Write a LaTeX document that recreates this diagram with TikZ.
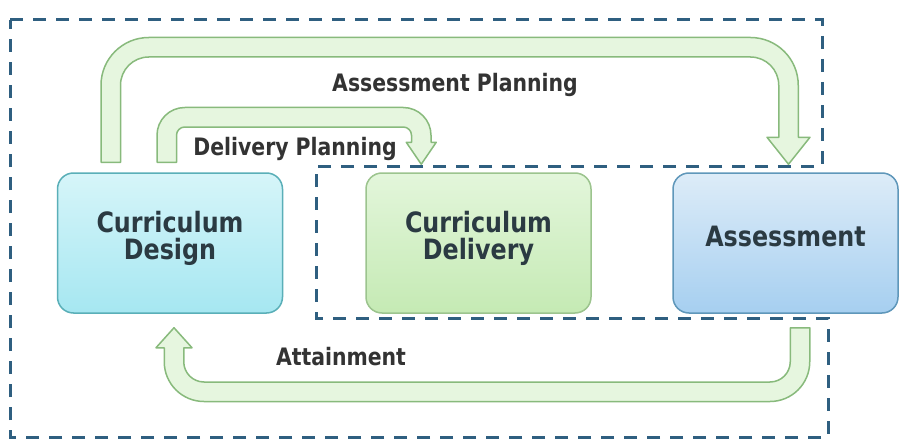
\documentclass[tikz,border=0pt]{standalone}
\usepackage{fontspec}
\newfontfamily\labfont[FakeStretch=0.85]{DejaVu Sans}
\usetikzlibrary{calc}
\definecolor{dashc}{HTML}{2F5F80}
\definecolor{arrline}{HTML}{88BA7C}
\definecolor{arrpale}{HTML}{E6F6DF}
\definecolor{arrgreen}{HTML}{B3E29D}
\definecolor{txtc}{HTML}{2B3A42}
\definecolor{labc}{HTML}{333333}
\definecolor{desTop}{HTML}{D6F5F9}
\definecolor{desBot}{HTML}{A6E7F1}
\definecolor{desLine}{HTML}{5AAFB8}
\definecolor{delTop}{HTML}{E3F6DB}
\definecolor{delBot}{HTML}{C5EAB4}
\definecolor{delLine}{HTML}{9CC48E}
\definecolor{assTop}{HTML}{DDECF8}
\definecolor{assBot}{HTML}{A6CFF0}
\definecolor{assLine}{HTML}{5F97BA}
\begin{document}
\begin{tikzpicture}[x=1pt,y=-1pt,
  box/.style={rounded corners=16pt, minimum width=225pt, minimum height=140pt,
    align=center, inner sep=0pt, line width=1.5pt, text=txtc,
    font=\labfont\bfseries\fontsize{28pt}{27pt}\selectfont},
  lab/.style={text=labc, inner sep=0pt, anchor=base,
    font=\labfont\bfseries\fontsize{24pt}{24pt}\selectfont},
  dashbox/.style={draw=dashc, line width=3pt, dash pattern=on 13pt off 10pt},
  blockarrow/.style={draw=arrline, line width=1.5pt, line join=round,
    left color=arrpale, middle color=arrgreen, right color=arrpale}]
\useasboundingbox[fill=white] (0,0) rectangle (911,444);

% dashed grouping outline
\draw[dashbox] (10,20) -- (822,20) -- (822,166) -- (316,166) -- (316,318)
  -- (828,318) -- (828,437) -- (10,437) -- cycle;

% boxes
\node[box, draw=desLine, top color=desTop, bottom color=desBot] (design) at (170,243)
  {Curriculum\\Design\rule[-16pt]{0pt}{16pt}};
\node[box, draw=delLine, top color=delTop, bottom color=delBot] (deliv) at (478.5,243)
  {Curriculum\\Delivery\rule[-16pt]{0pt}{16pt}};
\node[box, draw=assLine, top color=assTop, bottom color=assBot] (assess) at (785.5,243)
  {Assessment\rule[-14pt]{0pt}{14pt}};

% end points of the block arrows
\coordinate (ap0) at ($(design.north west)+(54,-10)$);
\coordinate (aptip) at ($(assess.north)+(3,-8)$);
\coordinate (dp0) at ($(design.north west)+(110,-10)$);
\coordinate (dptip) at ($(deliv.north west)+(56,-8)$);
\coordinate (at0) at ($(assess.south)+(14.5,14)$);
\coordinate (attip) at ($(design.south)+(4,14)$);

% Assessment Planning arrow: design -> assess
\shade[blockarrow] ($(ap0)+(-9.75,0)$) -- ++(0,-77)
  arc[start angle=180,end angle=270,radius=47.75]
  -- ($(aptip)+(-38,-126.75)$) arc[start angle=270,end angle=360,radius=47.75]
  -- ($(aptip)+(9.75,-27)$) -- ++(11.75,0) -- (aptip) -- ++(-21.5,-27) -- ++(11.75,0)
  -- ++(0,-52) arc[start angle=0,end angle=-90,radius=28.25]
  -- ($(ap0)+(38,-105.25)$) arc[start angle=270,end angle=180,radius=28.25]
  -- ($(ap0)+(9.75,0)$) -- cycle;

% Delivery Planning arrow: design -> deliv
\shade[blockarrow] ($(dp0)+(-9.75,0)$) -- ++(0,-27)
  arc[start angle=180,end angle=270,radius=27.75]
  -- ($(dptip)+(-18,-56.75)$) arc[start angle=270,end angle=360,radius=27.75]
  -- ($(dptip)+(9.75,-22)$) -- ++(5.25,0) -- (dptip) -- ++(-15,-22) -- ++(5.25,0)
  -- ++(0,-7) arc[start angle=0,end angle=-90,radius=8.25]
  -- ($(dp0)+(18,-35.25)$) arc[start angle=270,end angle=180,radius=8.25]
  -- ($(dp0)+(9.75,0)$) -- cycle;

% Attainment arrow: assess -> design
\shade[blockarrow] ($(at0)+(9.75,0)$) -- ++(0,34)
  arc[start angle=0,end angle=90,radius=39.75]
  -- ($(attip)+(30,73.75)$) arc[start angle=90,end angle=180,radius=39.75]
  -- ($(attip)+(-9.75,20)$) -- ++(-8.25,0) -- (attip) -- ++(18,20) -- ++(-8.25,0)
  -- ++(0,14) arc[start angle=180,end angle=90,radius=20.25]
  -- ($(at0)+(-30,54.25)$) arc[start angle=90,end angle=0,radius=20.25]
  -- ($(at0)+(-9.75,0)$) -- cycle;

% labels
\node[lab] (aplab) at (455,92) {Assessment Planning};
\node[lab] (dplab) at (295,155) {Delivery Planning};
\node[lab] (atlab) at (341,365) {Attainment};
\end{tikzpicture}
\end{document}
